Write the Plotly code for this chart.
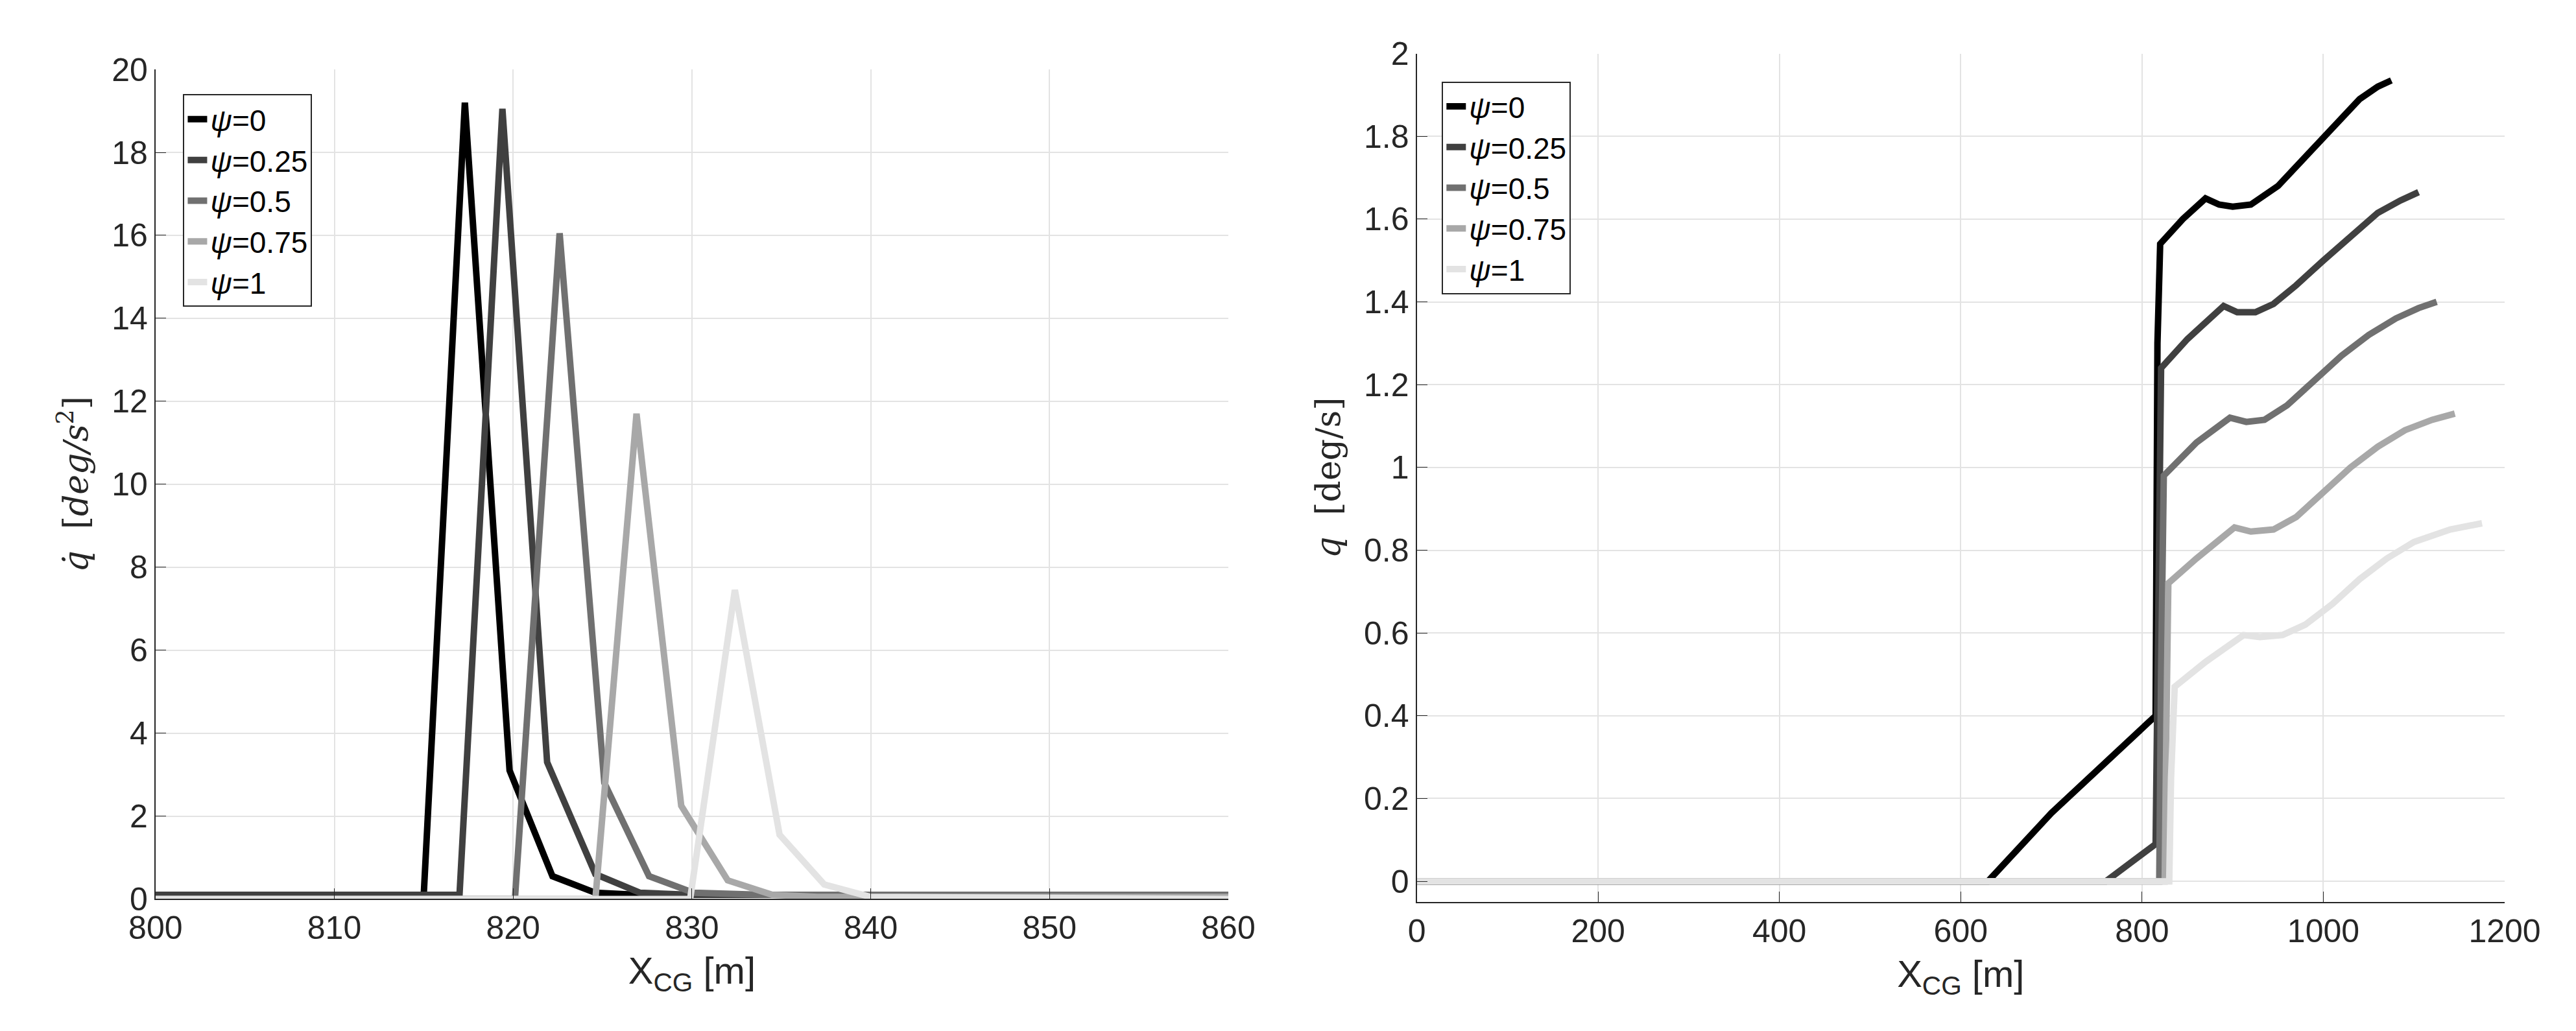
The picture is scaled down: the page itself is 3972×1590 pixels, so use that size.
import plotly.graph_objects as go

names = ["<i>ψ</i>=0", "<i>ψ</i>=0.25", "<i>ψ</i>=0.5", "<i>ψ</i>=0.75", "<i>ψ</i>=1"]
colors = ["#000000", "#404040", "#707070", "#a8a8a8", "#e3e3e3"]

# Left: q-dot vs X_CG
qd_x = [
    [800, 815, 817.3, 819.8, 822.2, 824.6, 827.0, 830, 860],
    [800, 817.0, 819.4, 821.9, 824.6, 827.1, 830, 860],
    [800, 820.1, 822.6, 825.1, 827.6, 830.1, 834, 860],
    [800, 824.6, 826.9, 829.4, 832.0, 834.5, 837, 860],
    [800, 829.9, 832.4, 834.9, 837.4, 840.0, 860],
]
qd_y = [
    [0.1, 0.1, 19.2, 3.1, 0.55, 0.15, 0.1, 0.1, 0.1],
    [0.1, 0.1, 19.05, 3.3, 0.6, 0.15, 0.1, 0.1],
    [0.0, 0.0, 16.05, 2.8, 0.55, 0.15, 0.1, 0.1],
    [0.0, 0.0, 11.7, 2.25, 0.45, 0.1, 0.05, 0.05],
    [0.0, 0.0, 7.45, 1.55, 0.35, 0.05, 0.0],
]

# Right: q vs X_CG
q_x = [
    [0, 630, 700, 760, 815, 817, 820, 845, 870, 885, 900, 920, 950, 980, 1010, 1040, 1060, 1075],
    [0, 760, 815, 817, 821, 850, 875, 890, 905, 925, 945, 970, 1000, 1030, 1060, 1085, 1105],
    [0, 819, 821, 824, 860, 880, 897, 915, 935, 960, 990, 1020, 1050, 1080, 1105, 1125],
    [0, 825, 827, 829, 860, 885, 902, 920, 945, 970, 1000, 1030, 1060, 1090, 1120, 1145],
    [0, 830, 832, 836, 870, 895, 912, 930, 955, 980, 1010, 1040, 1070, 1100, 1140, 1175],
]
q_y = [
    [0, 0, 0.165, 0.29, 0.4, 1.3, 1.54, 1.6, 1.65, 1.635, 1.63, 1.635, 1.68, 1.75, 1.82, 1.89, 1.92, 1.935],
    [0, 0, 0.09, 0.6, 1.24, 1.31, 1.36, 1.39, 1.375, 1.375, 1.395, 1.44, 1.5, 1.56, 1.615, 1.645, 1.665],
    [0, 0, 0.5, 0.98, 1.06, 1.095, 1.12, 1.11, 1.115, 1.15, 1.21, 1.27, 1.32, 1.36, 1.385, 1.4],
    [0, 0, 0.4, 0.72, 0.78, 0.825, 0.855, 0.845, 0.85, 0.88, 0.94, 1.0, 1.05, 1.09, 1.115, 1.13],
    [0, 0, 0.25, 0.47, 0.53, 0.57, 0.595, 0.59, 0.595, 0.62, 0.67, 0.73, 0.78, 0.82, 0.85, 0.865],
]

fig = go.Figure()
for i in range(5):
    fig.add_trace(go.Scatter(x=qd_x[i], y=qd_y[i], mode="lines", name=names[i],
                             line=dict(color=colors[i], width=10), xaxis="x", yaxis="y",
                             legend="legend"))
for i in range(5):
    fig.add_trace(go.Scatter(x=q_x[i], y=q_y[i], mode="lines", name=names[i],
                             line=dict(color=colors[i], width=10), xaxis="x2", yaxis="y2",
                             legend="legend2"))

tickfont = dict(family="Liberation Sans, Arial", size=50, color="#262626")
axcommon = dict(showgrid=True, gridcolor="#e3e3e3", gridwidth=2, showline=True,
                linecolor="#262626", linewidth=2, ticks="inside", ticklen=16,
                tickcolor="#262626", tickfont=tickfont, zeroline=False, mirror=False)
xtitle = dict(text="X<sub>CG</sub> [m]", font=dict(family="Liberation Sans, Arial", size=58, color="#262626"), standoff=18)
legfont = dict(family="Liberation Sans, Arial", size=46, color="#000")

fig.update_layout(
    width=3972, height=1590, margin=dict(l=0, r=0, t=0, b=0),
    plot_bgcolor="white", paper_bgcolor="white",
    xaxis=dict(domain=[0.049, 0.476], range=[800, 860], dtick=10, anchor="y", title=xtitle, **axcommon),
    yaxis=dict(domain=[0.119, 0.953], range=[0, 20], dtick=2, anchor="x",
               title=dict(text="<i>q̇</i>  [<i>deg/s</i><sup>2</sup>]",
                          font=dict(family="DejaVu Serif", size=52, color="#262626"), standoff=20),
               **axcommon),
    xaxis2=dict(domain=[0.551, 0.984], range=[0, 1200], dtick=200, anchor="y2", title=xtitle, **axcommon),
    yaxis2=dict(domain=[0.116, 0.969], range=[-0.05, 2], anchor="x2",
                tickvals=[0, 0.2, 0.4, 0.6, 0.8, 1, 1.2, 1.4, 1.6, 1.8, 2],
                ticktext=["0", "0.2", "0.4", "0.6", "0.8", "1", "1.2", "1.4", "1.6", "1.8", "2"],
                title=dict(text="<i>q</i>  [deg/s]",
                           font=dict(family="DejaVu Serif", size=52, color="#262626"), standoff=20),
                **axcommon),
    legend=dict(x=0.060, y=0.928, xanchor="left", yanchor="top", bgcolor="white",
                bordercolor="#262626", borderwidth=2, font=legfont, tracegroupgap=0),
    legend2=dict(x=0.561, y=0.941, xanchor="left", yanchor="top", bgcolor="white",
                 bordercolor="#262626", borderwidth=2, font=legfont, tracegroupgap=0),
)
fig.write_html("out.html")
